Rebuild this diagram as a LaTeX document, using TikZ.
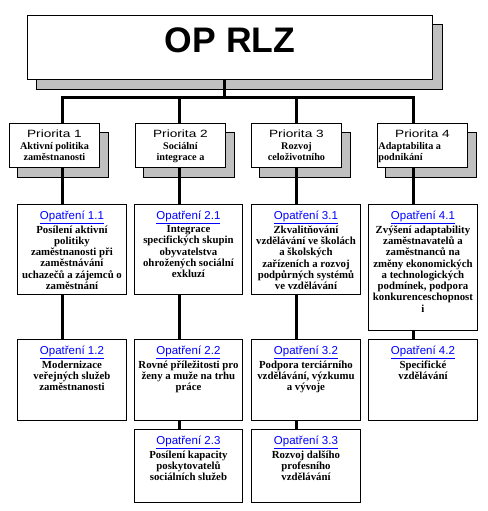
\documentclass[tikz,border=0pt]{standalone}
\usepackage{fontspec}
\usepackage{graphicx}
\setmainfont{Liberation Serif}
\newfontfamily\arialf{Liberation Sans}
\pgfdeclarelayer{shade}
\pgfdeclarelayer{wires}
\pgfsetlayers{shade,wires,main}
\definecolor{silvergray}{RGB}{192,192,192}
\definecolor{linkblue}{RGB}{0,0,255}
\newcommand\optitle[1]{{\arialf\mdseries\fontsize{11.5}{13}\selectfont\color{linkblue}\underline{#1}}}
\newcommand\prtitle[1]{{\arialf\mdseries\fontsize{10.5}{12}\selectfont\scalebox{1.3}[1]{#1}}}
\newcommand\optxt{\bfseries\fontsize{10.8}{11.3}\selectfont}
\newcommand\prtxt{\bfseries\fontsize{10.2}{11.4}\selectfont}
\newcommand\opcontent[4]{\parbox[t][#2][t]{#1}{\optxt\centering\rule{0pt}{15pt}\optitle{#3}\\[0.7pt]#4}}
\newcommand\prcontent[2]{\parbox[t][44pt][t]{90pt}{\prtxt\centering\rule{0pt}{14pt}\prtitle{#1}\\[0.6pt]#2}}
\tikzset{
  box/.style={draw, fill=white, line width=0.9pt, inner sep=0pt, anchor=north west},
  shadowbox/.style={fill=silvergray, draw=black, line width=0.7pt},
  wire/.style={draw=black, line width=3pt}
}
\begin{document}
\begin{tikzpicture}[x=1pt, y=-1pt]
\useasboundingbox (0,0) rectangle (487,511);
% top
\node[box] (top) at (27,15) {\parbox[t][64pt][t]{405pt}{\centering\arialf\bfseries\fontsize{35.5}{40}\selectfont\rule{0pt}{37pt}OP RLZ}};
% priorities
\node[box] (p1) at (9,123) {\prcontent{Priorita 1}{Aktivní politika\\ zaměstnanosti}};
\node[box] (p2) at (135,123) {\prcontent{Priorita 2}{Sociální\\ integrace a}};
\node[box] (p3) at (251,123) {\prcontent{Priorita 3}{Rozvoj\\ celoživotního}};
\node[box] (p4) at (377,123) {\prcontent{Priorita 4}{\makebox[88pt][l]{Adaptabilita a}\\ \makebox[88pt][l]{podnikání}}};
% measures
\node[box] (m11) at (17,204) {\opcontent{109pt}{90pt}{Opatření 1.1}{Posílení aktivní\\ politiky\\ zaměstnanosti při\\ zaměstnávání\\ uchazečů a zájemců o\\ zaměstnání}};
\node[box] (m21) at (134,204) {\opcontent{108pt}{90pt}{Opatření 2.1}{Integrace\\ specifických skupin\\ obyvatelstva\\ ohrožených sociální\\ exkluzí}};
\node[box] (m31) at (251,204) {\opcontent{109pt}{90pt}{Opatření 3.1}{Zkvalitňování\\ vzdělávání ve školách\\ a školských\\ zařízeních a rozvoj\\ podpůrných systémů\\ ve vzdělávání}};
\node[box] (m41) at (368,204) {\opcontent{109pt}{126pt}{Opatření 4.1}{Zvýšení adaptability\\ zaměstnavatelů a\\ zaměstnanců na\\ změny ekonomických\\ a technologických\\ podmínek, podpora\\ konkurenceschopnost\\ i}};
\node[box] (m12) at (17,339) {\opcontent{109pt}{81pt}{Opatření 1.2}{Modernizace\\ veřejných služeb\\ zaměstnanosti}};
\node[box] (m22) at (134,339) {\opcontent{108pt}{81pt}{Opatření 2.2}{Rovné příležitosti pro\\ ženy a muže na trhu\\ práce}};
\node[box] (m32) at (251,339) {\opcontent{109pt}{81pt}{Opatření 3.2}{Podpora terciárního\\ vzdělávání, výzkumu\\ a vývoje}};
\node[box] (m42) at (368,339) {\opcontent{109pt}{81pt}{Opatření 4.2}{Specifické\\ vzdělávání}};
\node[box] (m23) at (134,429) {\opcontent{108pt}{73pt}{Opatření 2.3}{Posílení kapacity\\ poskytovatelů\\ sociálních služeb}};
\node[box] (m33) at (251,429) {\opcontent{109pt}{73pt}{Opatření 3.3}{Rozvoj dalšího\\ profesního\\ vzdělávání}};
% junction coordinates
\coordinate (bj) at (224,97);
\coordinate (b1) at (62,97);
\coordinate (b2) at (179,97);
\coordinate (b3) at (296,97);
\coordinate (b4) at (413,97);
\begin{pgfonlayer}{shade}
\filldraw[shadowbox] ([shift={(9,9)}]top.north west) rectangle ([shift={(9,9)}]top.south east);
\foreach \n in {p1,p2,p3,p4}
  \filldraw[shadowbox] ([shift={(8,9)}]\n.north west) rectangle ([shift={(8,9)}]\n.south east);
\end{pgfonlayer}
\begin{pgfonlayer}{wires}
\draw[wire] (top.south -| bj) -- (bj);
\draw[wire] (m12.north -| b1) -- (b1) -- (b4) -- (m42.north -| b4);
\draw[wire] (b2) -- (m23.north -| b2);
\draw[wire] (b3) -- (m33.north -| b3);
\end{pgfonlayer}
\end{tikzpicture}
\end{document}
